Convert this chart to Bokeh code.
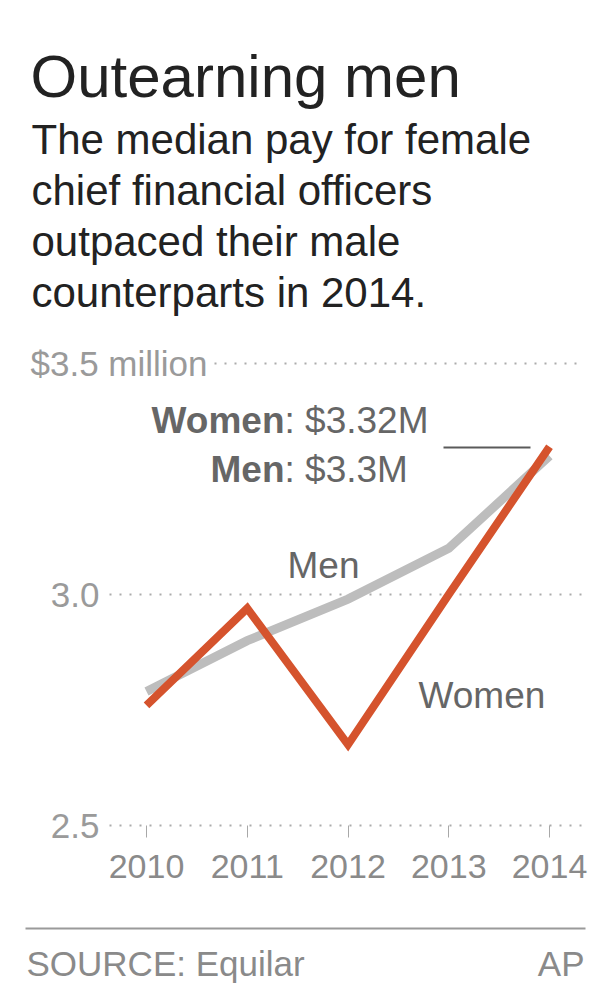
from bokeh.plotting import figure
from bokeh.models import Label, FixedTicker, Range1d
from bokeh.embed import file_html
from bokeh.resources import INLINE

# ---- data ----
years = [2010, 2011, 2012, 2013, 2014]
women = [2.76, 2.97, 2.675, 3.00, 3.32]
men = [2.79, 2.90, 2.99, 3.10, 3.30]
y_ticks = [2.5, 3.0, 3.5]
y_tick_labels = ["2.5", "3.0", "$3.5 million"]
x_tick_labels = ["2010", "2011", "2012", "2013", "2014"]
title = "Outearning men"
subtitle = ["The median pay for female", "chief financial officers",
            "outpaced their male", "counterparts in 2014."]
final_names = ["Women", "Men"]
final_values = [": $3.32M", ": $3.3M"]
source = "SOURCE: Equilar"
credit = "AP"

FONT = "Liberation Sans"
W, H = 600, 990

# layout helpers (page pixel -> data)
def px2x(px):
    return 2010 + (px - 146) / 100.75

def py2y(py):
    return 3.0 + (594 - py) / 462.0

p = figure(width=W, height=H, output_backend="svg", toolbar_location=None,
           x_range=Range1d(px2x(0), px2x(W)),
           y_range=Range1d(py2y(H), py2y(0)),
           min_border=0, min_border_left=0, min_border_right=0,
           min_border_top=0, min_border_bottom=0)
p.title.visible = False
p.outline_line_color = None
p.grid.visible = False
p.background_fill_color = "white"
p.border_fill_color = "white"

# y axis (3.0, 2.5 drawn by axis; top label drawn beside its gridline)
ya = p.yaxis[0]
ya.fixed_location = px2x(108)
ya.ticker = FixedTicker(ticks=y_ticks[:2])
ya.major_label_overrides = {t: l for t, l in zip(y_ticks[:2], y_tick_labels[:2])}
ya.axis_line_color = None
ya.major_tick_line_color = None
ya.minor_tick_line_color = None
ya.major_label_text_font = FONT
ya.major_label_text_font_size = "35px"
ya.major_label_text_color = "#9a9a9a"
ya.major_label_standoff = 3

xa = p.xaxis[0]
xa.fixed_location = y_ticks[0]
xa.ticker = FixedTicker(ticks=years)
xa.major_label_overrides = {y: l for y, l in zip(years, x_tick_labels)}
xa.axis_line_color = None
xa.major_tick_line_color = "#a8a8a8"
xa.major_tick_in = 0
xa.major_tick_out = 12
xa.minor_tick_line_color = None
xa.major_label_text_font = FONT
xa.major_label_text_font_size = "34px"
xa.major_label_text_color = "#8a8a8a"
xa.major_label_standoff = 17

# dotted gridlines
gx_lo, gx_hi = px2x(109), px2x(581)
p.segment(x0=[gx_lo, gx_lo, px2x(214)], y0=y_ticks, x1=[gx_hi] * 3, y1=y_ticks,
          line_color="#ababab", line_width=2, line_dash="2 8")

# lines
p.line(years, men, line_color="#bdbdbd", line_width=9, line_join="miter")
p.line(years, women, line_color="#d5532d", line_width=8, line_join="miter")

# leader line for final values
p.segment(x0=[px2x(443)], y0=[py2y(447)], x1=[px2x(530)], y1=[py2y(447)],
          line_color="#5a5a5a", line_width=2)

def lab(x, y, text, size, color, align="left", baseline="middle", style="normal"):
    p.add_layout(Label(x=x, y=y, text=text, text_font=FONT,
                       text_font_size=f"{size}px", text_color=color,
                       text_align=align, text_baseline=baseline,
                       text_font_style=style))

# headline
lab(px2x(30), py2y(76), title, 60, "#222222", baseline="alphabetic")
for i, line in enumerate(subtitle):
    lab(px2x(31), py2y(138.5 + 51.2 * i), line, 42, "#222222", baseline="alphabetic")

# top y label
lab(px2x(30), y_ticks[2], y_tick_labels[2], 35, "#9a9a9a")

# final value annotation
for i, (n, v) in enumerate(zip(final_names, final_values)):
    yy = py2y(420 + 49 * i)
    lab(px2x(284), yy, n, 37, "#666666", align="right", style="bold")
    lab(px2x(284), yy, v, 37, "#666666", align="left")

# series labels
lab(px2x(287), py2y(565), "Men", 37, "#666666")
lab(px2x(418), py2y(695), "Women", 37, "#666666")

# footer
p.segment(x0=[px2x(25)], y0=[py2y(928)], x1=[px2x(585)], y1=[py2y(928)],
          line_color="#9a9a9a", line_width=2)
lab(px2x(26), py2y(963), source, 35, "#8a8a8a")
lab(px2x(584), py2y(963), credit, 35, "#8a8a8a", align="right")

open("out.html", "w").write(file_html(p, INLINE))
